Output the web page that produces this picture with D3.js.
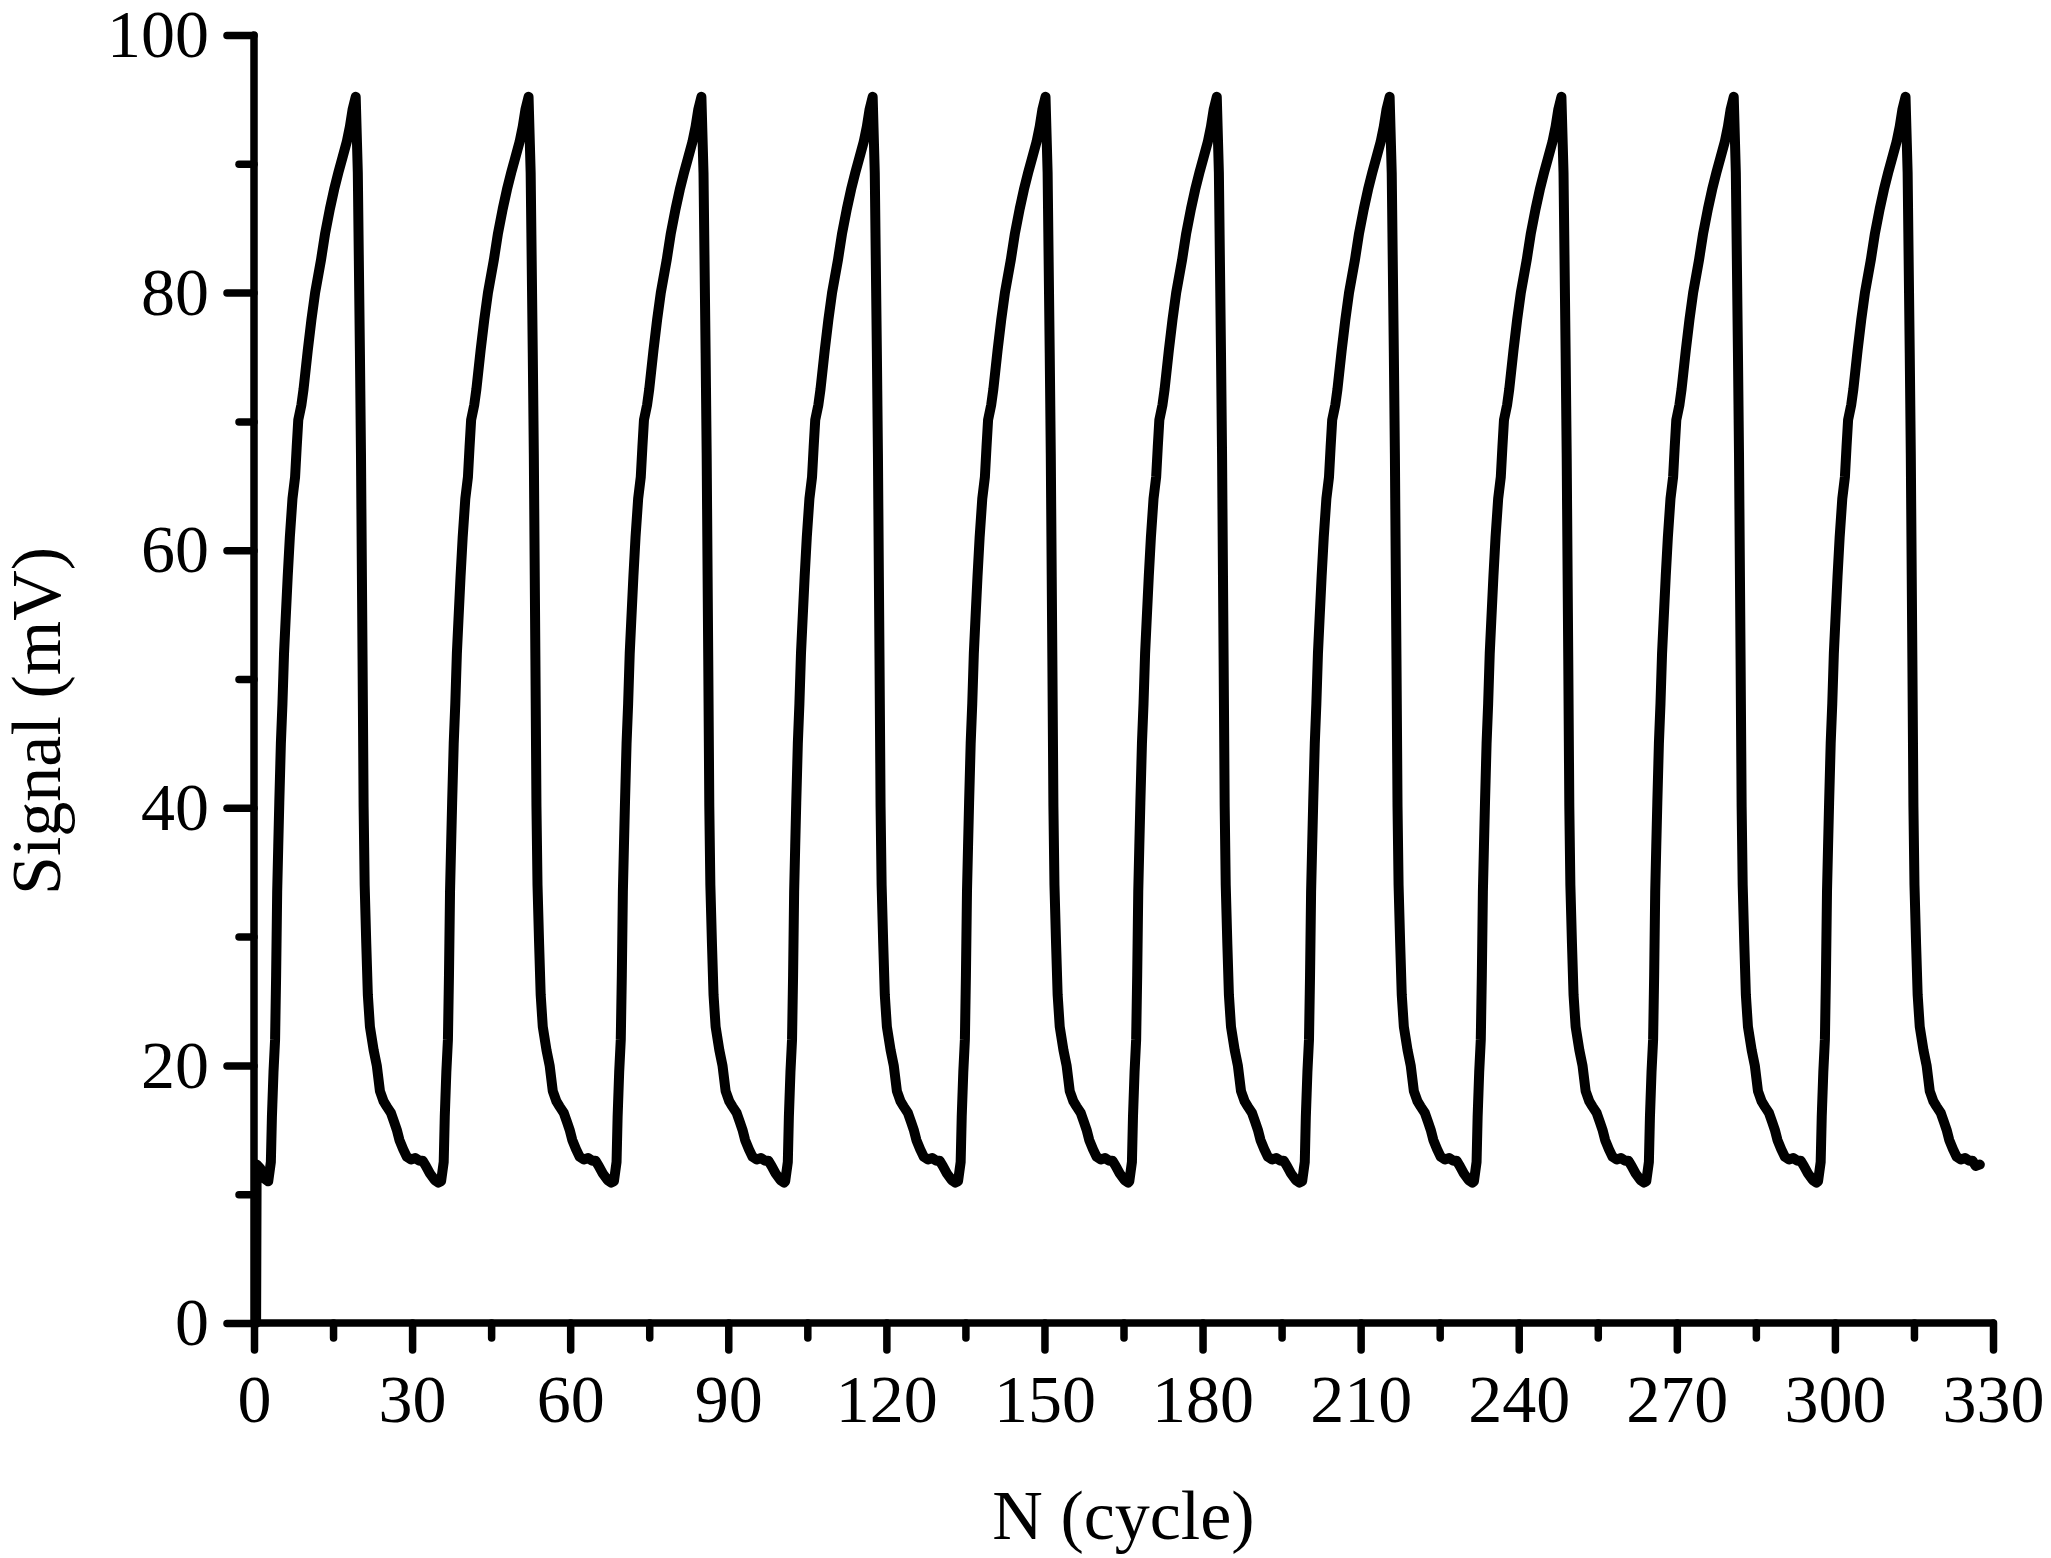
<!DOCTYPE html>
<html>
<head>
<meta charset="utf-8">
<script src="https://cdn.jsdelivr.net/npm/d3@7"></script>
<style>
  html, body { margin: 0; padding: 0; background: #fff; }
  svg { display: block; }
  text { font-family: "Liberation Serif", "Times New Roman", serif; fill: #000; }
</style>
</head>
<body>
<svg id="chart" width="2051" height="1558"></svg>
<script>
// ---------------- data ----------------
const xTicks = [0, 30, 60, 90, 120, 150, 180, 210, 240, 270, 300, 330];
const xMinorTicks = [15, 45, 75, 105, 135, 165, 195, 225, 255, 285, 315];
const yTicks = [0, 20, 40, 60, 80, 100];
const yMinorTicks = [10, 30, 50, 70, 90];
const xLabel = "N (cycle)";
const yLabel = "Signal (mV)";

// Positions of the ten peaks (cycle)
const peakX = [19.3, 52.1, 84.9, 117.4, 150.2, 182.7, 215.5, 248.1, 280.8, 313.4];

// Shape of one cycle: offset from the peak (cycle) and signal (mV)
const cycleOffset = [
  -16.6, -16.1, -15.9, -15.6, -15.3, -15.1, -14.9, -14.7, -14.5, -14.2,
  -13.9, -13.6, -13.3, -12.9, -12.5, -12.0, -11.5, -11.2, -10.9, -10.3,
  -9.9, -9.1, -8.4, -7.7, -6.6, -5.8, -4.9, -4.1, -3.3, -2.5,
  -1.7, -1.1, -0.6, 0.0,
  0.4, 0.8, 1.0, 1.3, 1.5, 1.7, 2.0, 2.3, 2.7, 3.4,
  4.0, 4.6, 5.3, 5.9, 6.7, 7.3, 7.8, 8.3, 9.0, 9.7,
  10.5, 11.3, 12.1, 12.7, 13.3, 14.1, 15.0, 15.7
];
const cycleSignal = [
  11.0, 12.5, 16.0, 19.5, 22.0, 27.0, 33.5, 37.0, 40.4, 45.0,
  48.1, 52.0, 54.6, 58.0, 61.0, 64.0, 65.7, 68.0, 70.1, 71.3,
  72.5, 75.5, 77.9, 80.0, 82.5, 84.6, 86.5, 88.0, 89.3, 90.5,
  91.7, 92.9, 94.2, 95.2,
  89.3, 75.3, 67.5, 51.5, 40.1, 34.0, 29.5, 25.5, 23.0, 21.2,
  20.0, 18.0, 17.2, 16.8, 16.3, 15.6, 15.0, 14.2, 13.5, 12.9,
  12.7, 12.8, 12.6, 12.6, 12.2, 11.6, 11.1, 10.9
];

// Beginning of the record and its last point
const startX = [0.4, 0.5, 1.2, 2.0];
const startSignal = [0.0, 12.3, 12.0, 11.2];
const endX = 327.5;
const endSignal = 12.3;

// ---------------- build series ----------------
const series = [];
startX.forEach((x, i) => series.push([x, startSignal[i]]));
peakX.forEach(p => {
  cycleOffset.forEach((o, i) => {
    const x = p + o;
    if (x < endX) series.push([x, cycleSignal[i]]);
  });
});
series.push([endX, endSignal]);

// ---------------- chart ----------------
const svg = d3.select("#chart");
const x = d3.scaleLinear().domain([0, 330]).range([254, 1993]);
const y = d3.scaleLinear().domain([0, 100]).range([1323, 35]);

const tickFont = 68;
const axisW = 7.5;

// Data line
svg.append("path")
  .datum(series)
  .attr("fill", "none")
  .attr("stroke", "#000")
  .attr("stroke-width", 10)
  .attr("stroke-linejoin", "round")
  .attr("stroke-linecap", "round")
  .attr("d", d3.line().x(d => x(d[0])).y(d => y(d[1])));

// Axes
const gx = svg.append("g").attr("transform", `translate(0,${y(0)})`);
gx.call(d3.axisBottom(x).tickValues(xTicks).tickSize(27).tickSizeOuter(0).tickFormat(d3.format("d")));
const gxm = svg.append("g").attr("transform", `translate(0,${y(0)})`);
gxm.call(d3.axisBottom(x).tickValues(xMinorTicks).tickSize(15).tickSizeOuter(0).tickFormat(""));

const gy = svg.append("g").attr("transform", `translate(${x(0)},0)`);
gy.call(d3.axisLeft(y).tickValues(yTicks).tickSize(27).tickSizeOuter(0).tickFormat(d3.format("d")));
const gym = svg.append("g").attr("transform", `translate(${x(0)},0)`);
gym.call(d3.axisLeft(y).tickValues(yMinorTicks).tickSize(15).tickSizeOuter(0).tickFormat(""));

svg.selectAll(".domain").remove();
svg.selectAll(".tick line")
  .attr("stroke", "#000")
  .attr("stroke-width", axisW)
  .attr("stroke-linecap", "round");

gx.selectAll(".tick text")
  .attr("y", 99).attr("dy", 0)
  .style("font-family", '"Liberation Serif", serif')
  .attr("font-size", tickFont);
gy.selectAll(".tick text")
  .attr("x", -45).attr("dy", "0.32em")
  .style("font-family", '"Liberation Serif", serif')
  .attr("font-size", tickFont);

// Axis frame (left + bottom)
svg.append("path")
  .attr("d", `M${x(0)},${y(100)} L${x(0)},${y(0)} L${x(330)},${y(0)}`)
  .attr("fill", "none")
  .attr("stroke", "#000")
  .attr("stroke-width", axisW)
  .attr("stroke-linejoin", "round")
  .attr("stroke-linecap", "round");

// Axis titles
svg.append("text")
  .attr("x", (x(0) + x(330)) / 2)
  .attr("y", 1539)
  .attr("text-anchor", "middle")
  .attr("font-size", 70)
  .text(xLabel);

svg.append("text")
  .attr("transform", `translate(60,${(y(0) + y(100)) / 2 + 42}) rotate(-90)`)
  .attr("text-anchor", "middle")
  .attr("font-size", 70)
  .text(yLabel);
</script>
</body>
</html>
